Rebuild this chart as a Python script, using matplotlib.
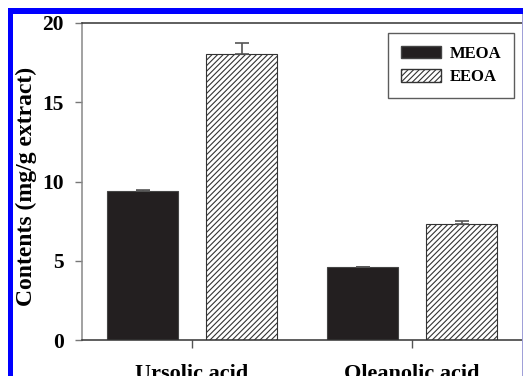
import numpy as np
import matplotlib
matplotlib.use("Agg")
import matplotlib.pyplot as plt
from matplotlib.patches import Rectangle, Patch

# contents of triterpenic acids in the two extracts (mg/g extract)
categories = ["Ursolic acid", "Oleanolic acid"]
series_names = ["MEOA", "EEOA"]
meoa_vals = [9.38, 4.59]
meoa_err = [0.06, 0.0]
eeoa_vals = [18.04, 7.34]
eeoa_err = [0.70, 0.19]
y_ticks = [0, 5, 10, 15, 20]

plt.rcParams['font.family'] = ['Liberation Serif', 'DejaVu Serif']
plt.rcParams['font.weight'] = 'bold'
plt.rcParams['hatch.linewidth'] = 0.8

W, H = 523, 376
fig = plt.figure(figsize=(W / 100, H / 100), dpi=100)

ax = fig.add_axes([82 / W, 36 / H, 440 / W, 317 / H])

x = np.arange(len(categories))
off = 0.225
bw = 0.322
ekw = dict(ecolor='#555555', elinewidth=1.2, capsize=5, capthick=1.2)
ax.bar(x - off, meoa_vals, bw, color='#231f20', edgecolor='#444444', linewidth=0.8,
       yerr=[np.zeros(len(meoa_err)), meoa_err], error_kw=ekw,
       label=series_names[0], zorder=2)
ax.bar(x + off, eeoa_vals, bw, color='white', edgecolor='#333333', linewidth=0.8, hatch='//////',
       yerr=[np.zeros(len(eeoa_err)), eeoa_err], error_kw=ekw,
       label=series_names[1], zorder=2)

ax.set_xlim(-0.5, 1.5)
ax.set_ylim(0, 20)
ax.set_yticks(y_ticks)
ax.set_xticks(x)
ax.set_xticklabels(categories, fontsize=16, fontweight='bold')
ax.tick_params(axis='y', direction='out', length=5, width=1, color='#777777', labelsize=15.5, pad=8)
ax.tick_params(axis='x', direction='out', length=6, width=1, color='#555555', pad=11)
for lab in ax.get_yticklabels():
    lab.set_fontweight('bold')

ax.spines['left'].set_color('#888888')
ax.spines['top'].set_color('#333333')
ax.spines['bottom'].set_color('#333333')
ax.spines['right'].set_visible(False)
for s in ax.spines.values():
    s.set_linewidth(1.1)

ax.set_ylabel("Contents (mg/g extract)", fontsize=17, fontweight='bold')
ax.yaxis.set_label_coords(-45 / 440, 0.5 - 5 / 317)

handles = [Patch(facecolor='#231f20', edgecolor='#444444', label=series_names[0]),
           Patch(facecolor='white', edgecolor='#333333', hatch='//////', label=series_names[1])]
leg = fig.legend(handles=handles, loc='upper left', bbox_to_anchor=(388 / W, 1 - 33 / H),
                 prop={'weight': 'bold', 'size': 12}, frameon=True, fancybox=False,
                 handlelength=2.4, handleheight=0.8, handletextpad=0.55, borderpad=0.75,
                 labelspacing=0.45, borderaxespad=0)
leg.get_frame().set_edgecolor('#333333')
leg.get_frame().set_linewidth(1.0)

# blue frame along the left and top edges, faint line on the right
fig.patches.append(Rectangle((8 / W, 0), 5 / W, 1 - 8 / H, transform=fig.transFigure,
                             facecolor='#0000ff', edgecolor='none'))
fig.patches.append(Rectangle((8 / W, 1 - 14 / H), 1, 6 / H, transform=fig.transFigure,
                             facecolor='#0000ff', edgecolor='none'))
fig.patches.append(Rectangle((521.5 / W, 0), 1 / W, 1 - 14 / H, transform=fig.transFigure,
                             facecolor='#a0a0d8', edgecolor='none'))

fig.savefig("out.png", dpi=100)
